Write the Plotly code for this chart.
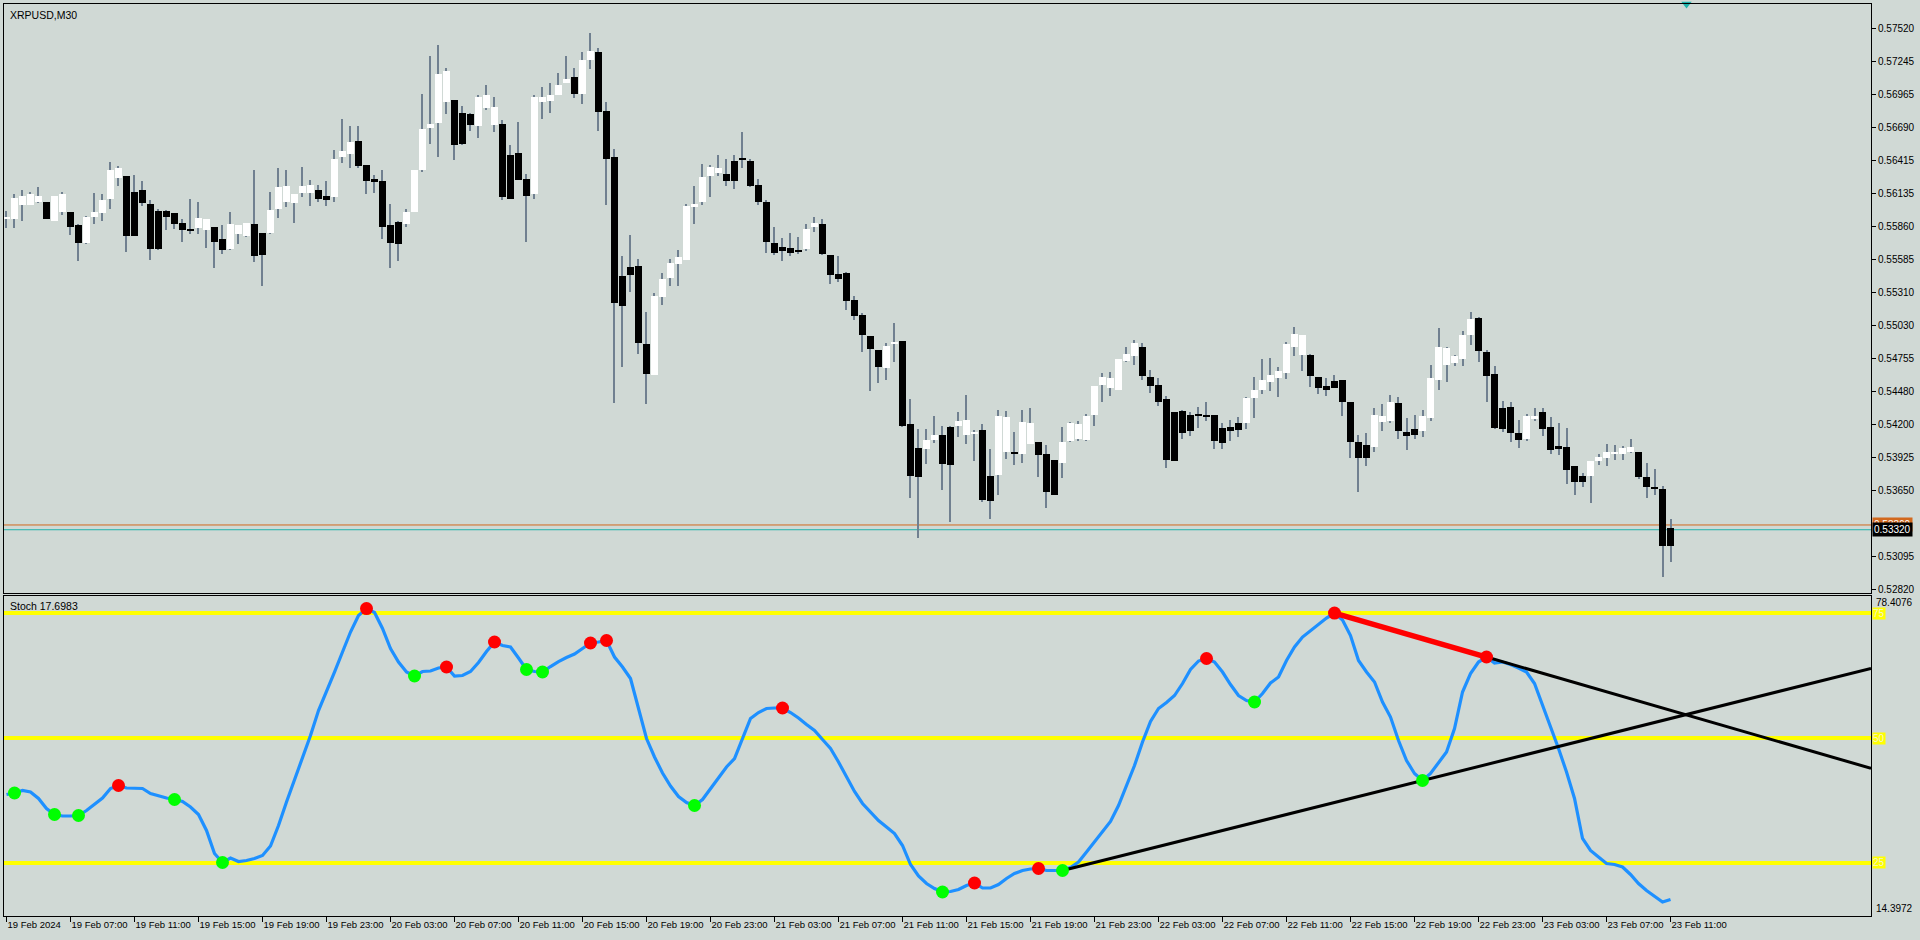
import plotly.graph_objects as go

symbol_title = "XRPUSD,M30"

opens = [
 0.5592,0.5592,0.5604,0.5604,0.5607,0.5607,0.5591,0.5598,0.5598,0.5587,
 0.5572,0.5594,0.5597,0.5609,0.5627,0.5628,0.5615,0.5617,0.5605,0.5599,
 0.5599,0.5597,0.5589,0.5584,0.5585,0.5583,0.5586,0.5576,0.5567,0.5580,
 0.5578,0.5588,0.5581,0.5581,0.5601,0.5607,0.5606,0.5614,0.5614,0.5617,
 0.5612,0.5611,0.5644,0.5647,0.5658,0.5638,0.5626,0.5624,0.5587,0.5590,
 0.5588,0.5598,0.5633,0.5669,0.5673,0.5690,0.5692,0.5681,0.5680,0.5670,
 0.5685,0.5671,0.5672,0.5646,0.5648,0.5626,0.5613,0.5690,0.5691,0.5696,
 0.5706,0.5711,0.5697,0.5726,0.5732,0.5683,0.56444,0.55448,0.55524,0.55532,
 0.54879,0.54614,0.55267,0.55426,0.55543,0.55582,0.56020,0.56062,0.56280,0.56305,
 0.56302,0.56411,0.56428,0.56411,0.56210,0.56068,0.55725,0.55691,0.55683,0.55666,
 0.55669,0.55853,0.55884,0.55624,0.55465,0.55474,0.55247,0.55122,0.54946,0.54829,
 0.54673,0.54882,0.54904,0.54209,0.54009,0.53995,0.54076,0.54118,0.54184,0.54187,
 0.54112,0.54120,0.54159,0.53774,0.53777,0.53970,0.53967,0.53953,0.54037,0.54059,
 0.53958,0.53908,0.53878,0.54062,0.54084,0.54076,0.54279,0.54530,0.54511,0.54494,
 0.54737,0.54779,0.54854,0.54603,0.54536,0.54419,0.54310,0.54318,0.54285,0.54293,
 0.54285,0.54285,0.54176,0.54184,0.54218,0.54218,0.54427,0.54494,0.54561,0.54594,
 0.54636,0.54854,0.54787,0.54787,0.54603,0.54528,0.54569,0.54578,0.54394,0.54059,
 0.54034,0.54017,0.54226,0.54234,0.54385,0.54143,0.54168,0.54151,0.54260,0.54578,
 0.54703,0.54720,0.54754,0.54955,0.55097,0.54812,0.54628,0.54343,0.54352,0.54134,
 0.54084,0.54251,0.54310,0.54184,0.54025,0.54017,0.53850,0.53774,0.53774,0.53900,
 0.53917,0.53958,0.53958,0.53975,0.53975,0.53766,0.53674,0.53665,0.53331]

highs = [
 0.5599,0.5613,0.5617,0.5615,0.5619,0.5607,0.5612,0.5615,0.5598,0.5588,
 0.5595,0.5614,0.5613,0.5640,0.5637,0.5628,0.5629,0.5624,0.5608,0.5601,
 0.5600,0.5597,0.5592,0.5609,0.5607,0.5592,0.5586,0.5587,0.5598,0.5587,
 0.5589,0.5633,0.5581,0.5615,0.5635,0.5633,0.5613,0.5636,0.5625,0.5621,
 0.5624,0.5650,0.5676,0.5670,0.5670,0.5638,0.5629,0.5633,0.5605,0.5591,
 0.5601,0.5633,0.5697,0.5729,0.5738,0.5719,0.5692,0.5687,0.5681,0.5696,
 0.5705,0.5695,0.5675,0.5654,0.5674,0.5630,0.5696,0.5703,0.5706,0.5715,
 0.5729,0.5719,0.5732,0.5748,0.5736,0.5690,0.56511,0.55616,0.55791,0.55591,
 0.55147,0.55306,0.55473,0.55591,0.55666,0.56051,0.56202,0.56386,0.56377,0.56461,
 0.56428,0.56461,0.56654,0.56428,0.56260,0.56084,0.55858,0.55766,0.55808,0.55775,
 0.55884,0.55942,0.55925,0.55624,0.55616,0.55482,0.55281,0.55139,0.54946,0.54829,
 0.54888,0.55055,0.54904,0.54419,0.54168,0.54168,0.54276,0.54193,0.54193,0.54310,
 0.54452,0.54159,0.54209,0.54000,0.54327,0.54318,0.54143,0.54327,0.54343,0.54059,
 0.54034,0.53908,0.54184,0.54226,0.54234,0.54293,0.54528,0.54636,0.54645,0.54754,
 0.54854,0.54913,0.54888,0.54662,0.54594,0.54444,0.54310,0.54327,0.54310,0.54352,
 0.54394,0.54285,0.54218,0.54243,0.54268,0.54436,0.54603,0.54754,0.54762,0.54687,
 0.54896,0.55021,0.54955,0.54795,0.54603,0.54594,0.54620,0.54578,0.54394,0.54118,
 0.54134,0.54343,0.54377,0.54452,0.54436,0.54260,0.54285,0.54327,0.54703,0.55013,
 0.54854,0.54787,0.54988,0.55147,0.55105,0.54829,0.54695,0.54402,0.54394,0.54243,
 0.54293,0.54343,0.54343,0.54268,0.54218,0.54176,0.53858,0.53799,0.53900,0.53958,
 0.54042,0.54034,0.54025,0.54084,0.53975,0.53883,0.53833,0.53690,0.53406]

lows = [
 0.5585,0.5585,0.5591,0.5604,0.5606,0.5592,0.5591,0.5596,0.5579,0.5557,
 0.5571,0.5588,0.5591,0.5601,0.5620,0.5565,0.5578,0.5603,0.5558,0.5566,
 0.5583,0.5584,0.5573,0.5580,0.5580,0.5568,0.5551,0.5563,0.5566,0.5571,
 0.5577,0.5556,0.5536,0.5580,0.5593,0.5602,0.5589,0.5611,0.5603,0.5607,
 0.5603,0.5607,0.5639,0.5635,0.5635,0.5613,0.5614,0.5576,0.5551,0.5557,
 0.5586,0.5598,0.5632,0.5655,0.5644,0.5680,0.5642,0.5654,0.5666,0.5660,
 0.5684,0.5665,0.5608,0.5609,0.5625,0.5573,0.5609,0.5676,0.5681,0.5696,
 0.5706,0.5694,0.5689,0.5718,0.5666,0.5604,0.54380,0.54681,0.55309,0.54790,
 0.54371,0.54614,0.55200,0.55359,0.55359,0.55577,0.55884,0.56037,0.56112,0.56280,
 0.56204,0.56179,0.56347,0.56188,0.56045,0.55635,0.55618,0.55568,0.55610,0.55627,
 0.55652,0.55817,0.55624,0.55376,0.55392,0.55164,0.55080,0.54807,0.54480,0.54547,
 0.54572,0.54723,0.54179,0.53585,0.53250,0.53869,0.54051,0.53652,0.53389,0.54095,
 0.54037,0.53894,0.53551,0.53406,0.53610,0.53911,0.53861,0.53878,0.54037,0.53760,
 0.53501,0.53610,0.53752,0.54059,0.54062,0.54062,0.54187,0.54388,0.54438,0.54494,
 0.54728,0.54703,0.54578,0.54469,0.54360,0.53841,0.53900,0.54084,0.54109,0.54176,
 0.54234,0.54000,0.54000,0.54067,0.54101,0.54168,0.54260,0.54461,0.54486,0.54436,
 0.54586,0.54779,0.54653,0.54519,0.54461,0.54444,0.54511,0.54276,0.53925,0.53640,
 0.53858,0.53975,0.54151,0.54218,0.54084,0.53992,0.54084,0.54101,0.54234,0.54494,
 0.54561,0.54695,0.54695,0.54871,0.54728,0.54394,0.54168,0.54143,0.54059,0.54009,
 0.54067,0.54234,0.54109,0.53958,0.53950,0.53707,0.53607,0.53682,0.53548,0.53866,
 0.53850,0.53908,0.53908,0.53967,0.53749,0.53590,0.53610,0.52920,0.53046]

closes = [
 0.5594,0.5610,0.5612,0.5613,0.5612,0.5592,0.5612,0.5613,0.5586,0.5572,
 0.5594,0.5598,0.5608,0.5633,0.5635,0.5578,0.5578,0.5606,0.5567,0.5567,
 0.5594,0.5588,0.5583,0.5583,0.5593,0.5592,0.5573,0.5566,0.5588,0.5587,
 0.5589,0.5561,0.5562,0.5600,0.5619,0.5620,0.5613,0.5620,0.5621,0.5609,
 0.5608,0.5643,0.5649,0.5657,0.5637,0.5624,0.5623,0.5586,0.5572,0.5571,
 0.5598,0.5633,0.5668,0.5672,0.5714,0.5716,0.5654,0.5655,0.5671,0.5695,
 0.5696,0.5686,0.5611,0.5609,0.5625,0.5612,0.5695,0.5695,0.5696,0.5705,
 0.5710,0.5697,0.5726,0.5733,0.5682,0.5643,0.55217,0.55192,0.55451,0.54882,
 0.54622,0.55281,0.55423,0.55557,0.55607,0.56034,0.56051,0.56277,0.56361,0.56352,
 0.56246,0.56238,0.56422,0.56196,0.56070,0.55727,0.55635,0.55652,0.55635,0.55649,
 0.55842,0.55892,0.55627,0.55451,0.55423,0.55233,0.55108,0.54949,0.54832,0.54681,
 0.54862,0.54896,0.54187,0.53769,0.53760,0.54076,0.54110,0.53869,0.53861,0.54235,
 0.54243,0.54143,0.53568,0.53559,0.54276,0.54268,0.53961,0.54226,0.54218,0.53944,
 0.53635,0.53610,0.54059,0.54218,0.54209,0.54276,0.54528,0.54603,0.54594,0.54754,
 0.54795,0.54888,0.54611,0.54528,0.54394,0.53908,0.53900,0.54134,0.54151,0.54271,
 0.54271,0.54067,0.54051,0.54151,0.54159,0.54427,0.54494,0.54578,0.54620,0.54653,
 0.54879,0.54963,0.54955,0.54611,0.54511,0.54494,0.54511,0.54394,0.54059,0.53917,
 0.53925,0.54285,0.54276,0.54394,0.54151,0.54109,0.54118,0.54276,0.54594,0.54854,
 0.54846,0.54779,0.54955,0.55088,0.54821,0.54611,0.54176,0.54168,0.54134,0.54076,
 0.54276,0.54276,0.54168,0.53992,0.54000,0.53824,0.53724,0.53716,0.53900,0.53933,
 0.53975,0.53975,0.54009,0.54017,0.53766,0.53682,0.53668,0.53188,0.53180]

stoch = [
 38.7,39.0,39.5,39.2,37.9,35.9,34.7,34.4,34.4,34.5,
 35.5,36.7,38.0,39.9,40.5,40.0,40.0,39.9,38.9,38.4,
 38.0,37.7,37.3,36.2,34.7,31.5,26.9,25.1,26.0,25.3,
 25.5,25.9,26.5,28.4,32.5,37.2,41.5,45.9,50.5,55.5,
 59.2,63.2,67.2,71.2,74.5,75.9,75.1,71.9,67.9,65.2,
 63.2,62.4,63.3,63.4,64.0,64.2,62.4,62.5,63.3,65.1,
 67.3,69.2,68.5,68.2,66.0,63.7,63.3,63.2,64.3,65.3,
 66.1,66.8,67.9,69.0,69.2,69.5,66.2,64.2,61.9,55.9,
 49.9,46.2,43.0,40.4,38.3,37.1,36.5,37.7,39.9,41.9,
 44.2,45.9,49.9,53.9,55.1,55.9,56.0,56.0,55.1,54.0,
 52.7,51.5,49.7,47.9,45.2,42.2,39.3,36.9,35.1,33.5,
 32.2,30.9,28.5,24.7,22.4,20.9,19.9,19.2,19.3,19.7,
 20.5,21.0,20.0,20.0,20.7,21.9,22.9,23.5,23.8,23.9,
 23.5,23.5,23.5,24.1,25.2,27.2,29.3,31.3,33.3,36.5,
 40.5,44.5,49.2,53.3,55.9,57.1,58.5,60.9,63.7,65.4,
 65.9,65.2,63.2,60.7,58.5,57.5,57.2,58.9,61.0,62.2,
 65.5,68.2,70.2,71.5,72.7,74.0,75.0,73.6,70.5,65.5,
 63.2,61.2,57.2,54.2,49.5,45.5,42.9,41.5,42.9,45.1,
 47.2,51.9,59.2,62.9,65.2,66.2,65.0,65.2,64.7,64.0,
 63.2,60.9,56.5,52.5,47.9,43.2,37.9,29.9,27.5,26.2,
 24.9,24.7,24.2,22.7,20.9,19.5,18.4,17.2,17.6983]

stoch_peaks = [14, 45, 55, 61, 73, 75, 97, 121, 129, 150, 166, 185]
stoch_troughs = [1, 6, 9, 21, 27, 51, 65, 67, 86, 117, 132, 156, 177]
divergence_peaks = [166, 185]
support_troughs = [132, 177]

x_labels = ["19 Feb 2024", "19 Feb 07:00", "19 Feb 11:00", "19 Feb 15:00", "19 Feb 19:00",
            "19 Feb 23:00", "20 Feb 03:00", "20 Feb 07:00", "20 Feb 11:00", "20 Feb 15:00",
            "20 Feb 19:00", "20 Feb 23:00", "21 Feb 03:00", "21 Feb 07:00", "21 Feb 11:00",
            "21 Feb 15:00", "21 Feb 19:00", "21 Feb 23:00", "22 Feb 03:00", "22 Feb 07:00",
            "22 Feb 11:00", "22 Feb 15:00", "22 Feb 19:00", "22 Feb 23:00", "23 Feb 03:00",
            "23 Feb 07:00", "23 Feb 11:00"]
bars_per_label = 8

price_ticks = [0.57520, 0.57245, 0.56965, 0.56690, 0.56415, 0.56135, 0.55860, 0.55585,
               0.55310, 0.55030, 0.54755, 0.54480, 0.54200, 0.53925, 0.53650, 0.53095, 0.52820]
bid_price = 0.53320
ask_price = 0.53360
stoch_levels = [25, 50, 75]
stoch_range = [14.3972, 78.4076]
price_range = [0.52790, 0.57725]

# ---------------- styling ----------------
BG = "#D0D9D5"
FONT = "Tahoma, Liberation Sans, DejaVu Sans, sans-serif"
WICK = "#708090"
n = len(closes)
xs = list(range(n))
x_range = [-0.3125, 233.06]

fig = go.Figure()

# wicks (thin bars so that bodies stack on top of them)
fig.add_trace(go.Bar(x=xs, y=[h - l for h, l in zip(highs, lows)], base=lows,
                     marker=dict(color=WICK, line=dict(width=0)), width=0.13,
                     xaxis="x", yaxis="y", hoverinfo="skip", showlegend=False))

# bodies
min_body = 0.00008
bases = [min(o, c) for o, c in zip(opens, closes)]
heights = [max(abs(c - o), min_body) for o, c in zip(opens, closes)]
colors = ["#FFFFFF" if c > o else "#000000" for o, c in zip(opens, closes)]
fig.add_trace(go.Bar(x=xs, y=heights, base=bases, marker=dict(color=colors, line=dict(width=0)),
                     width=0.84, xaxis="x", yaxis="y", hoverinfo="skip", showlegend=False))

# chart shift marker
fig.add_trace(go.Scatter(x=[n + 1], y=[price_range[1]], mode="markers",
                         marker=dict(symbol="triangle-down", size=9, color="#20B2AA"),
                         cliponaxis=False, xaxis="x", yaxis="y", hoverinfo="skip", showlegend=False))

# stochastic line
fig.add_trace(go.Scatter(x=xs, y=stoch, mode="lines", line=dict(color="#1E90FF", width=3.2),
                         xaxis="x2", yaxis="y2", hoverinfo="skip", showlegend=False))

# divergence (red) line between peaks, and its extension
a, b = divergence_peaks
fig.add_trace(go.Scatter(x=[a, b], y=[stoch[a], stoch[b]], mode="lines",
                         line=dict(color="#FF0000", width=5.5),
                         xaxis="x2", yaxis="y2", hoverinfo="skip", showlegend=False))
slope1 = (stoch[b] - stoch[a]) / (b - a)
fig.add_trace(go.Scatter(x=[b, x_range[1]], y=[stoch[b], stoch[b] + slope1 * (x_range[1] - b)],
                         mode="lines", line=dict(color="#000000", width=3),
                         xaxis="x2", yaxis="y2", hoverinfo="skip", showlegend=False))
c, d = support_troughs
slope2 = (stoch[d] - stoch[c]) / (d - c)
fig.add_trace(go.Scatter(x=[c, x_range[1]], y=[stoch[c], stoch[c] + slope2 * (x_range[1] - c)],
                         mode="lines", line=dict(color="#000000", width=3),
                         xaxis="x2", yaxis="y2", hoverinfo="skip", showlegend=False))

# dots
fig.add_trace(go.Scatter(x=stoch_peaks, y=[stoch[i] for i in stoch_peaks], mode="markers",
                         marker=dict(color="#FF0000", size=13, line=dict(width=0)),
                         xaxis="x2", yaxis="y2", hoverinfo="skip", showlegend=False))
fig.add_trace(go.Scatter(x=stoch_troughs, y=[stoch[i] for i in stoch_troughs], mode="markers",
                         marker=dict(color="#00FF00", size=13, line=dict(width=0)),
                         xaxis="x2", yaxis="y2", hoverinfo="skip", showlegend=False))

shapes = []
for lv in stoch_levels:
    shapes.append(dict(type="line", xref="x2 domain", x0=0, x1=1, yref="y2", y0=lv, y1=lv,
                       line=dict(color="#FFFF00", width=4), layer="below"))
shapes.append(dict(type="line", xref="x domain", x0=0, x1=1, yref="y", y0=ask_price, y1=ask_price,
                   line=dict(color="#D2691E", width=1), layer="below"))
shapes.append(dict(type="line", xref="x domain", x0=0, x1=1, yref="y", y0=bid_price, y1=bid_price,
                   line=dict(color="#20B2AA", width=1), layer="below"))

annotations = [
    dict(text=symbol_title, xref="paper", yref="paper", x=0, y=1, xanchor="left", yanchor="top",
         xshift=4, yshift=-3, showarrow=False, font=dict(family=FONT, size=10.5, color="#000000")),
    dict(text=f"Stoch {stoch[-1]:.4f}", xref="paper", yref="y2 domain", x=0, y=1,
         xanchor="left", yanchor="top", xshift=4, yshift=-2, showarrow=False,
         font=dict(family=FONT, size=10.5, color="#000000")),
    dict(text=f"{stoch_range[1]:.4f}", xref="paper", yref="y2", x=1, y=stoch_range[1],
         xanchor="left", yanchor="top", xshift=3, yshift=1, showarrow=False,
         font=dict(family=FONT, size=10, color="#000000")),
    dict(text=f"{stoch_range[0]:.4f}", xref="paper", yref="y2", x=1, y=stoch_range[0],
         xanchor="left", yanchor="bottom", xshift=3, yshift=0, showarrow=False,
         font=dict(family=FONT, size=10, color="#000000")),
    dict(text=f"{ask_price:.5f}", xref="paper", yref="y", x=1, y=ask_price,
         xanchor="left", yanchor="middle", xshift=1, showarrow=False, bgcolor="#D2691E",
         borderpad=1, font=dict(family=FONT, size=10, color="#FFFFFF")),
    dict(text=f"{bid_price:.5f}", xref="paper", yref="y", x=1, y=bid_price,
         xanchor="left", yanchor="middle", xshift=1, showarrow=False, bgcolor="#000000",
         borderpad=1, font=dict(family=FONT, size=10, color="#FFFFFF")),
]
for lv in stoch_levels:
    annotations.append(dict(text=str(lv), xref="paper", yref="y2", x=1, y=lv, xanchor="left",
                            yanchor="middle", xshift=1, showarrow=False, bgcolor="#FFFF00",
                            borderpad=0, font=dict(family=FONT, size=10, color="#F4F4D0")))

tick_pos = [k * bars_per_label for k in range(len(x_labels))]

axis_common = dict(showgrid=False, zeroline=False, showline=True, mirror=True,
                   linecolor="#000000", linewidth=1, automargin=False)

fig.update_layout(
    width=1920, height=940, autosize=False,
    margin=dict(l=4, r=49, t=4, b=24, pad=0),
    paper_bgcolor=BG, plot_bgcolor=BG,
    barmode="overlay", bargap=0, showlegend=False,
    font=dict(family=FONT, size=10, color="#000000"),
    xaxis=dict(domain=[0, 1], anchor="y", range=x_range, showticklabels=False, ticks="",
               **axis_common),
    yaxis=dict(domain=[0.35417, 1], anchor="x", side="right", range=price_range,
               tickvals=price_ticks, ticktext=[f"{v:.5f}" for v in price_ticks],
               ticks="outside", ticklen=4, tickcolor="#000000",
               tickfont=dict(family=FONT, size=10, color="#000000"), **axis_common),
    xaxis2=dict(domain=[0, 1], anchor="y2", range=x_range, tickvals=tick_pos, ticktext=x_labels,
                ticks="outside", ticklen=5, tickcolor="#000000", ticklabelposition="outside right",
                tickangle=0, tickfont=dict(family=FONT, size=9.5, color="#000000"), **axis_common),
    yaxis2=dict(domain=[0, 0.35088], anchor="x2", side="right", range=stoch_range,
                tickvals=[], ticks="", **axis_common),
    shapes=shapes, annotations=annotations,
)

fig.write_html("out.html", config={"displayModeBar": False},
               post_script="document.body.style.margin='0px';document.body.style.overflow='hidden';")
